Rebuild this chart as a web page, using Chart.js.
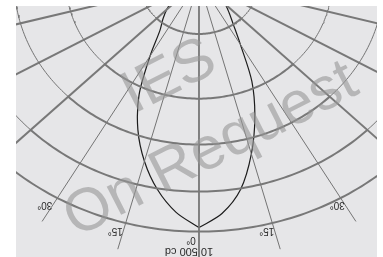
<!DOCTYPE html>
<html>
<head>
<meta charset="utf-8">
<script src="https://cdn.jsdelivr.net/npm/chart.js@4.4.1/dist/chart.umd.min.js"></script>
<style>
html, body { margin: 0; padding: 0; background: #fff; }
#wrap { width: 383px; height: 257px; }
</style>
</head>
<body>
<div id="wrap"><canvas id="polar"></canvas></div>
<script>
// gamma angles (deg) and luminous intensity (cd) for the two half planes
const angles  = [0, 5, 10, 15, 20, 25, 30, 35, 40, 45, 50, 55, 60, 65, 70, 75, 80, 85, 90];
const cdRight = [10480, 9920, 9000, 7610, 6140, 4700, 3110, 2250, 1760, 1400, 1000, 650, 380, 200, 90, 30, 0, 0, 0];
const cdLeft  = [10480, 9870, 9000, 7930, 6720, 5330, 3680, 2560, 2110, 1720, 1300, 850, 480, 250, 100, 30, 0, 0, 0];

// grid
const rings = [2250, 5000, 6950, 8950, 10650];
const spokes = [-90, -75, -60, -45, -30, -15, 0, 15, 30, 45, 60, 75, 90];
const spokeLabels = [-30, -15, 0, 15, 30];
const scaleText = '10 500 cd';
const watermark = ['IES', 'On Request'];

const rad = d => d * Math.PI / 180;
const polar = (deg, cd) => ({ x: cd * Math.sin(rad(deg)), y: -cd * Math.cos(rad(deg)) });

const thick = { borderColor: '#787878', borderWidth: 2 };
const thin = { borderColor: '#747474', borderWidth: 1 };

const datasets = [];
function addLine(points, style) {
    datasets.push(Object.assign({ data: points, showLine: true, pointRadius: 0, tension: 0, clip: 0 }, style));
}

// rings: heavy inside the +-45 cone, light outside
rings.forEach(r => {
    const arc = (a, b) => { const p = []; for (let d = a; d <= b; d++) p.push(polar(d, r)); return p; };
    addLine(arc(-120, -45), thin);
    addLine(arc(45, 120), thin);
    addLine(arc(-45, 45), thick);
});
// spokes: light inside the cone, heavy outside
spokes.forEach(a => {
    addLine([polar(a, 0), polar(a, 11800)], Math.abs(a) >= 45 ? thick : thin);
});
// intensity curve, two halves from the peak
addLine(angles.map((a, i) => polar(a, cdRight[i])), { borderColor: '#1c1c1c', borderWidth: 1.2, tension: 0.3 });
addLine(angles.map((a, i) => polar(-a, cdLeft[i])), { borderColor: '#1c1c1c', borderWidth: 1.2, tension: 0.3 });

const decor = {
    id: 'decor',
    beforeDraw(chart) {
        const { ctx, chartArea: c } = chart;
        ctx.save();
        ctx.fillStyle = '#e6e6e8';
        ctx.fillRect(c.left, c.top, c.right - c.left, c.bottom - c.top);
        ctx.restore();
    },
    afterDatasetsDraw(chart) {
        const { ctx } = chart;
        const sx = chart.scales.x, sy = chart.scales.y;
        const pix = p => [sx.getPixelForValue(p.x), sy.getPixelForValue(p.y)];

        ctx.save();
        ctx.fillStyle = '#2a2a2a';
        ctx.font = '10px "Liberation Sans", Arial, sans-serif';
        ctx.textAlign = 'center';
        ctx.textBaseline = 'middle';
        spokeLabels.forEach(a => {
            const [x, y] = pix(polar(a, 11000));
            ctx.save();
            ctx.translate(x - 8, y);
            ctx.rotate(Math.PI);
            ctx.fillText(Math.abs(a) + '°', 0, 0);
            ctx.restore();
        });
        ctx.font = '11px "Liberation Sans", Arial, sans-serif';
        ctx.save();
        ctx.translate(189, 251);
        ctx.rotate(Math.PI);
        ctx.fillText(scaleText, 0, 0);
        ctx.restore();

        // watermark
        ctx.fillStyle = 'rgba(150,150,150,0.6)';
        ctx.font = '60px "Liberation Sans", Arial, sans-serif';
        ctx.translate(192, 113);
        ctx.rotate(rad(-27));
        ctx.fillText(watermark[0], -4, -42);
        ctx.fillText(watermark[1], 0, 42);
        ctx.restore();
    }
};

new Chart(document.getElementById('polar'), {
    type: 'scatter',
    data: { datasets: datasets },
    options: {
        responsive: true,
        maintainAspectRatio: false,
        animation: false,
        layout: { padding: { left: 16, top: 6, right: 6, bottom: 0 } },
        plugins: { legend: { display: false }, tooltip: { enabled: false } },
        scales: {
            x: { display: false, min: -6881, max: 6693 },
            y: { display: false, min: -11730, max: -1062 }
        }
    },
    plugins: [decor]
});
</script>
</body>
</html>
